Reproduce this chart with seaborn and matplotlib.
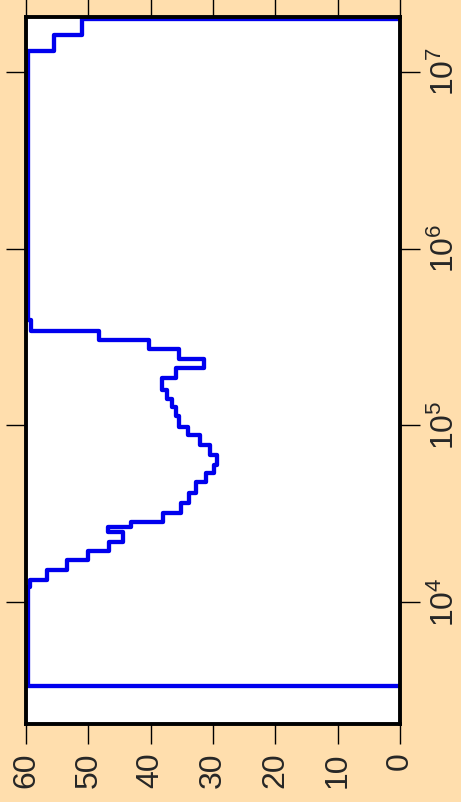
import numpy as np
import matplotlib
matplotlib.use("Agg")
import matplotlib.pyplot as plt
import seaborn as sns

# bin edges (log-scale quantity), read bottom to top
edges = [3360, 12160, 13320, 15180, 17290, 19510, 21940, 24990, 26470, 28250,
         32020, 36200, 41230, 47950, 53930, 59620, 67920, 77350, 88130, 98200,
         112900, 127400, 141400, 158400, 184500, 210200, 236300, 269200, 304000,
         343100, 394600, 13180000, 16180000, 19860000]
# counts in each bin (values at 60 are at the top of the axis)
counts = [59.7, 59.3, 56.6, 53.5, 50.0, 46.7, 44.5, 46.8, 43.1, 38.0,
          35.2, 33.9, 32.7, 31.2, 29.8, 29.4, 30.5, 32.1, 34.0, 35.5,
          35.9, 36.5, 37.4, 38.2, 35.9, 31.4, 35.5, 40.3, 48.3, 59.2,
          59.7, 55.5, 51.0]

count_ticks = [0, 10, 20, 30, 40, 50, 60]
value_ticks = [1e4, 1e5, 1e6, 1e7]
value_labels = [r"$\mathregular{10^{4}}$", r"$\mathregular{10^{5}}$",
                r"$\mathregular{10^{6}}$", r"$\mathregular{10^{7}}$"]

sns.set_style("white")
plt.rcParams["font.family"] = ["Liberation Sans", "DejaVu Sans"]

# outline of the step path, drawn sideways
e = np.asarray(edges, dtype=float)
c = np.asarray(counts, dtype=float)
px = np.concatenate([[0.0], np.repeat(c, 2), [0.0]])
py = np.concatenate([[e[0]], np.column_stack([e[:-1], e[1:]]).ravel(), [e[-1]]])

fig = plt.figure(figsize=(4.61, 8.02), dpi=100, facecolor="#FFDEAD")
ax = fig.add_axes([26 / 461, 1 - 724 / 802, 374 / 461, 707 / 802])
ax.set_facecolor("white")

sns.lineplot(x=px, y=py, sort=False, estimator=None, ax=ax,
             color="#0000EE", linewidth=3.1)

ax.set_yscale("log")
ax.set_xlim(60, 0)
ax.set_ylim(10 ** 3.3096, 10 ** 7.3107)
ax.set_xticks(count_ticks)
ax.set_xticklabels([str(t) for t in count_ticks])
ax.set_yticks(value_ticks)
ax.set_yticklabels(value_labels)
ax.minorticks_off()
ax.set_xlabel("")
ax.set_ylabel("")

for s in ax.spines.values():
    s.set_visible(True)
    s.set_color("black")
    s.set_linewidth(2.8)
    s.set_zorder(5)

ax.tick_params(axis="both", which="major", direction="out", length=14.4,
               width=1.0, color="black", top=True, right=True, left=True,
               bottom=True, labelleft=False, labeltop=False, labelright=True,
               labelbottom=True, labelsize=23, labelrotation=90)
ax.tick_params(axis="x", pad=6)
ax.tick_params(axis="y", pad=7)
for lab in ax.get_yticklabels():
    lab.set_verticalalignment("center")

fig.savefig("out.png", dpi=100, facecolor=fig.get_facecolor())
